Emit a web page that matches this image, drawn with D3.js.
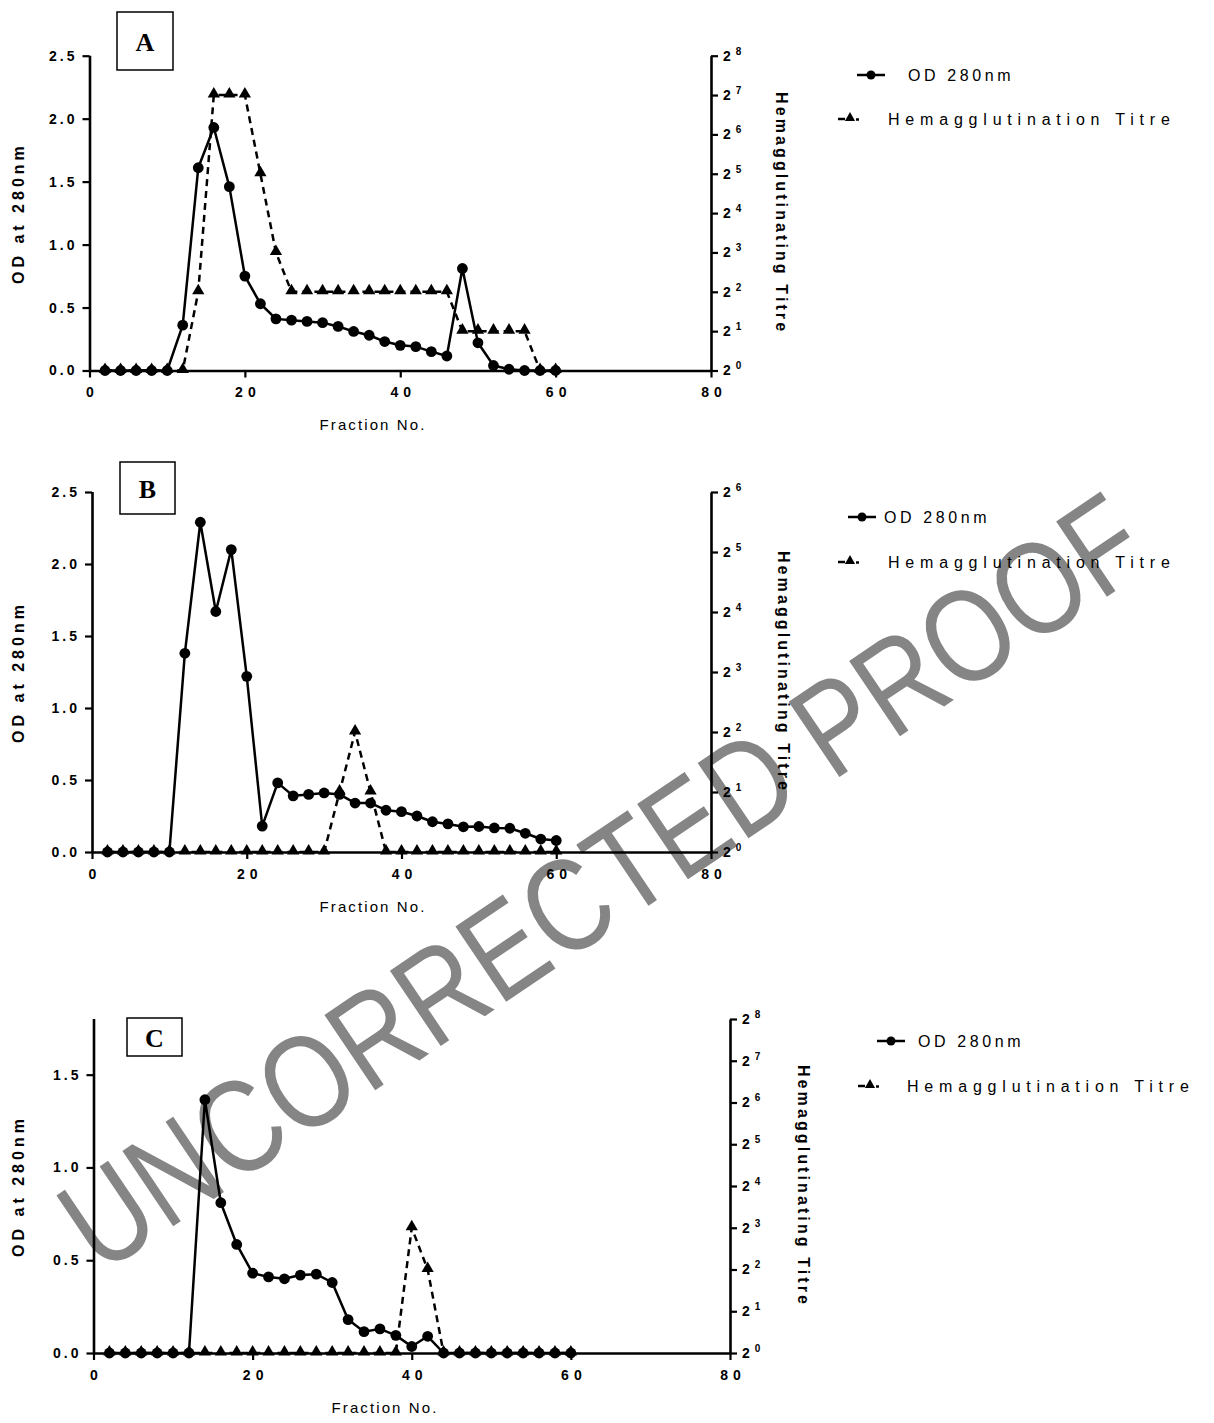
<!DOCTYPE html>
<html>
<head>
<meta charset="utf-8">
<script src="https://cdn.jsdelivr.net/npm/d3@7"></script>
<style>
body { margin: 0; background: #fff; }
</style>
</head>
<body>
<div class="container"></div>
<script>
// fraction numbers shared by all three runs
var fractions = [2,4,6,8,10,12,14,16,18,20,22,24,26,28,30,32,34,36,38,40,42,44,46,48,50,52,54,56,58,60];

// OD at 280 nm
var odA = [0,0,0,0,0,0.36,1.61,1.93,1.46,0.75,0.53,0.41,0.40,0.39,0.38,0.35,0.31,0.28,0.23,0.20,0.19,0.15,0.115,0.81,0.22,0.04,0.01,0,0,0];
var odB = [0,0,0,0,0,1.38,2.29,1.67,2.10,1.22,0.18,0.48,0.39,0.40,0.41,0.40,0.34,0.34,0.29,0.28,0.25,0.21,0.195,0.175,0.177,0.167,0.165,0.13,0.09,0.08];
var odC = [0,0,0,0,0,0,1.365,0.81,0.585,0.43,0.41,0.40,0.42,0.425,0.38,0.18,0.115,0.13,0.095,0.035,0.09,0,0,0,0,0,0,0,0,0];

// hemagglutination titre
var titreA = [1,1,1,1,1,1,4,128,128,128,32,8,4,4,4,4,4,4,4,4,4,4,4,2,2,2,2,2,1,1];
var titreB = [1,1,1,1,1,1,1,1,1,1,1,1,1,1,1,2,4,2,1,1,1,1,1,1,1,1,1,1,1,1];
var titreC = [1,1,1,1,1,1,1,1,1,1,1,1,1,1,1,1,1,1,1,8,4,1,1,1,1,1,1,1,1,1];

// tick labels
var xTicks = [0,20,40,60,80];
var odTicksAB = [0,0.5,1.0,1.5,2.0,2.5];
var odTicksC = [0,0.5,1.0,1.5];
var titreExpA = [0,1,2,3,4,5,6,7,8];
var titreExpB = [0,1,2,3,4,5,6];
var titreExpC = [0,1,2,3,4,5,6,7,8];

var panelLetters = ["A","B","C"];
var legendLabels = ["OD 280nm", "Hemagglutination Titre"];

const WIDTH = 1214;
const HEIGHT = 1423;
const SANS = '"Liberation Sans", Arial, sans-serif';
const SERIF = '"Liberation Serif", "Times New Roman", serif';

var translate = function(x, y){
	return "translate(" + x + "," + y + ")";
};

var svg = d3.select('.container').append('svg')
	.attr('width', WIDTH)
	.attr('height', HEIGHT)
	.style('font-family', SANS);

// watermark goes under everything (narrow sans, so squeeze it)
svg.append('text')
	.attr('transform', translate(602, 882) + " rotate(-34) scale(0.83,1)")
	.attr('text-anchor', 'middle')
	.attr('dominant-baseline', 'central')
	.attr('font-size', 132)
	.attr('fill', '#858585')
	.text('UNCORRECTED PROOF');

var styleAxis = function(g, size, spacing){
	g.select('.domain').attr('stroke-width', 2.6);
	g.selectAll('.tick line').attr('stroke-width', 2.2);
	g.selectAll('.tick text')
		.style('font-family', SANS)
		.attr('font-weight', 'bold')
		.attr('font-size', size)
		.style('letter-spacing', spacing + 'px');
};

var drawPanel = function(p){
	var xScale = d3.scaleLinear().domain([0, 80]).range([p.x0, p.x1]);
	var yScale = d3.scaleLinear().domain([0, p.yMax]).range([p.yBot, p.yTop]);
	var tScale = d3.scaleLog().base(2)
		.domain([1, Math.pow(2, d3.max(p.tExp))])
		.range([p.yBot, p.yTop]);

	var g = svg.append('g');

	// frame letter
	g.append('rect')
		.attr('x', p.box[0]).attr('y', p.box[1])
		.attr('width', p.box[2]).attr('height', p.box[3])
		.attr('fill', 'none').attr('stroke', '#000').attr('stroke-width', 1.5);
	g.append('text')
		.attr('x', p.box[0] + p.box[2] / 2)
		.attr('y', p.box[1] + p.box[3] / 2 + 1)
		.attr('text-anchor', 'middle')
		.attr('dominant-baseline', 'central')
		.style('font-family', SERIF)
		.attr('font-weight', 'bold')
		.attr('font-size', 26)
		.text(p.letter);

	// axes
	var xa = g.append('g')
		.attr('transform', translate(0, p.yBot))
		.call(d3.axisBottom(xScale).tickValues(xTicks).tickSize(7).tickSizeOuter(0)
			.tickPadding(10).tickFormat(d3.format('d')));
	styleAxis(xa, 14, 5);
	xa.selectAll('.tick text').attr('dx', '2.5px');

	var ya = g.append('g')
		.attr('transform', translate(p.x0, 0))
		.call(d3.axisLeft(yScale).tickValues(p.yTicks).tickSize(7).tickSizeOuter(0)
			.tickPadding(8).tickFormat(d3.format('.1f')));
	ya.select('.domain').attr('d', 'M0.5,' + p.yBot + 'V' + p.yTop);
	styleAxis(ya, 14, 3);
	ya.selectAll('.tick text').attr('dx', '3px');

	var ta = g.append('g')
		.attr('transform', translate(p.x1, 0))
		.call(d3.axisRight(tScale)
			.tickValues(p.tExp.map(function(e){ return Math.pow(2, e); }))
			.tickSize(7).tickSizeOuter(0).tickPadding(5)
			.tickFormat(function(){ return '2'; }));
	styleAxis(ta, 14, 0);
	ta.selectAll('.tick text').each(function(d){
		d3.select(this).append('tspan')
			.attr('dx', '5px')
			.attr('dy', '-6')
			.attr('font-size', 10)
			.text(Math.round(Math.log2(d)));
	});

	// axis titles
	var midY = (p.yTop + p.yBot) / 2;
	g.append('text')
		.attr('transform', translate(18, midY) + ' rotate(-90)')
		.attr('text-anchor', 'middle')
		.attr('dominant-baseline', 'central')
		.attr('font-weight', 'bold')
		.attr('font-size', 16)
		.style('letter-spacing', '4px')
		.text('OD at 280nm');

	g.append('text')
		.attr('transform', translate(p.x1 + p.rightTitleDx, midY) + ' rotate(90)')
		.attr('text-anchor', 'middle')
		.attr('dominant-baseline', 'central')
		.attr('font-weight', 'bold')
		.attr('font-size', 16)
		.style('letter-spacing', '3.1px')
		.text('Hemagglutinating Titre');

	g.append('text')
		.attr('x', p.fracX)
		.attr('y', p.yBot + 54)
		.attr('text-anchor', 'middle')
		.attr('dominant-baseline', 'central')
		.attr('font-size', 15)
		.style('letter-spacing', '2.1px')
		.text('Fraction No.');

	// titre series (dashed, triangles)
	var titreLine = d3.line()
		.x(function(d, i){ return xScale(fractions[i]); })
		.y(function(d){ return tScale(d); });

	g.append('path')
		.attr('d', titreLine(p.titre))
		.attr('fill', 'none')
		.attr('stroke', '#000')
		.attr('stroke-width', 2.5)
		.attr('stroke-dasharray', '7,5');

	var tri = d3.symbol().type(d3.symbolTriangle).size(65);
	g.selectAll('path.tri').data(p.titre)
		.enter().append('path')
		.classed('tri', true)
		.attr('d', tri)
		.attr('transform', function(d, i){ return translate(xScale(fractions[i]), tScale(d) - 1); })
		.attr('fill', '#000');

	// OD series (solid, circles)
	var odLine = d3.line()
		.x(function(d, i){ return xScale(fractions[i]); })
		.y(function(d){ return yScale(d); });

	g.append('path')
		.attr('d', odLine(p.od))
		.attr('fill', 'none')
		.attr('stroke', '#000')
		.attr('stroke-width', 2.5)
		.attr('stroke-linejoin', 'round');

	g.selectAll('circle').data(p.od)
		.enter().append('circle')
		.attr('cx', function(d, i){ return xScale(fractions[i]); })
		.attr('cy', function(d){ return yScale(d); })
		.attr('r', 5.4)
		.attr('fill', '#000');

	// legend
	var lg = g.append('g');
	lg.append('line')
		.attr('x1', p.leg.odX).attr('x2', p.leg.odX + 28)
		.attr('y1', p.leg.y1).attr('y2', p.leg.y1)
		.attr('stroke', '#000').attr('stroke-width', 2.5);
	lg.append('circle')
		.attr('cx', p.leg.odX + 14).attr('cy', p.leg.y1).attr('r', 4.5);
	lg.append('text')
		.attr('x', p.leg.odTextX).attr('y', p.leg.y1)
		.attr('dominant-baseline', 'central')
		.attr('font-size', 16)
		.style('letter-spacing', '3.6px')
		.text(legendLabels[0]);

	lg.append('line')
		.attr('x1', p.leg.tX).attr('x2', p.leg.tX + 7)
		.attr('y1', p.leg.y2).attr('y2', p.leg.y2)
		.attr('stroke', '#000').attr('stroke-width', 2.5);
	lg.append('line')
		.attr('x1', p.leg.tX + 18).attr('x2', p.leg.tX + 21)
		.attr('y1', p.leg.y2 + 0.5).attr('y2', p.leg.y2 + 0.5)
		.attr('stroke', '#000').attr('stroke-width', 2.5);
	lg.append('path')
		.attr('d', d3.symbol().type(d3.symbolTriangle).size(45))
		.attr('transform', translate(p.leg.tX + 12, p.leg.y2 - 1));
	lg.append('text')
		.attr('x', p.leg.tTextX).attr('y', p.leg.y2)
		.attr('dominant-baseline', 'central')
		.attr('font-size', 16)
		.style('letter-spacing', '5.8px')
		.text(legendLabels[1]);
};

window.onload = function(){
	drawPanel({
		letter: panelLetters[0], box: [117, 12, 56, 58],
		x0: 89.5, x1: 711, yTop: 55.7, yBot: 370.5, yMax: 2.5, yTicks: odTicksAB,
		tExp: titreExpA, od: odA, titre: titreA,
		rightTitleDx: 70, fracX: 373,
		leg: { odX: 857, odTextX: 908, y1: 75, tX: 838, tTextX: 888, y2: 119 }
	});
	drawPanel({
		letter: panelLetters[1], box: [120, 462, 55, 52],
		x0: 92, x1: 711, yTop: 492, yBot: 852, yMax: 2.5, yTicks: odTicksAB,
		tExp: titreExpB, od: odB, titre: titreB,
		rightTitleDx: 72, fracX: 373,
		leg: { odX: 848, odTextX: 884, y1: 517, tX: 838, tTextX: 888, y2: 562 }
	});
	drawPanel({
		letter: panelLetters[2], box: [127, 1018, 55, 38],
		x0: 93.5, x1: 730, yTop: 1019, yBot: 1353, yMax: 1.8, yTicks: odTicksC,
		tExp: titreExpC, od: odC, titre: titreC,
		rightTitleDx: 73, fracX: 385,
		leg: { odX: 877, odTextX: 918, y1: 1041, tX: 858, tTextX: 907, y2: 1086 }
	});
};
</script>
</body>
</html>
